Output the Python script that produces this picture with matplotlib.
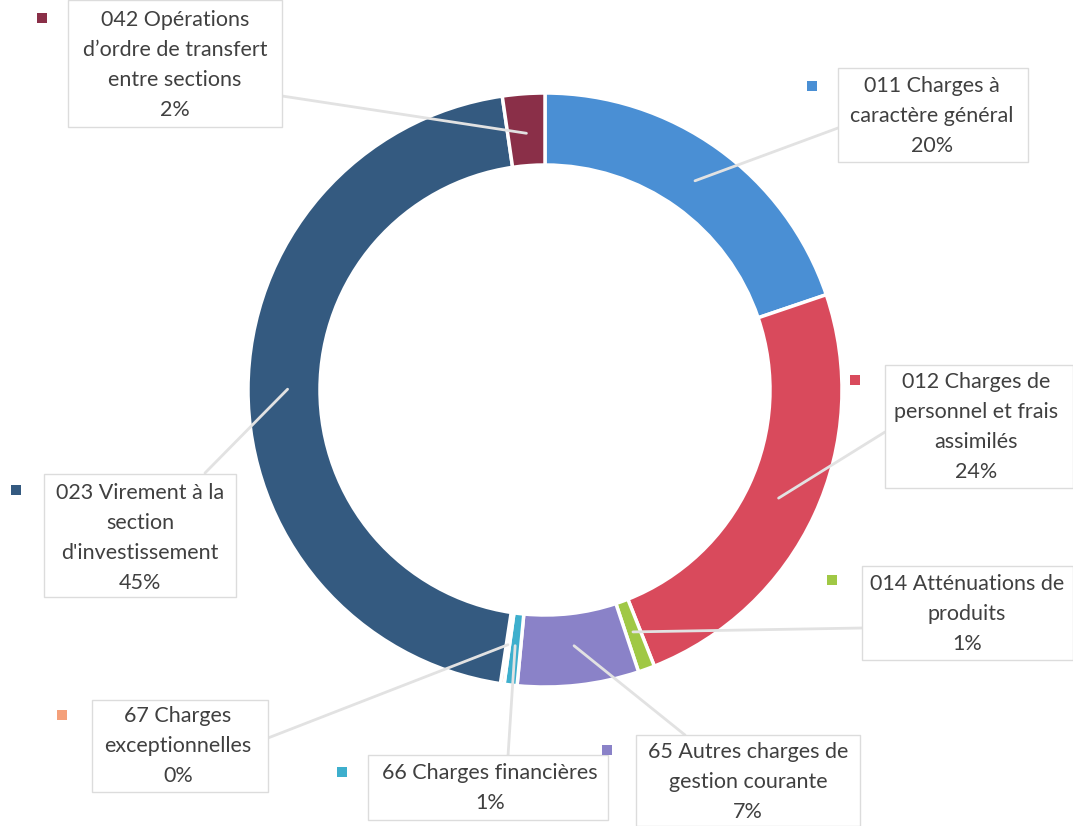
import numpy as np
import matplotlib
matplotlib.use("Agg")
import matplotlib.pyplot as plt
from matplotlib.patches import Rectangle

# ---- data ----
categories = [
    "011 Charges à\ncaractère général",
    "012 Charges de\npersonnel et frais\nassimilés",
    "014 Atténuations de\nproduits",
    "65 Autres charges de\ngestion courante",
    "66 Charges financières",
    "67 Charges\nexceptionnelles",
    "023 Virement à la\nsection\nd'investissement",
    "042 Opérations\nd\u2019ordre de transfert\nentre sections",
]
values = [19.8, 24.2, 0.9, 6.6, 0.7, 0.2, 45.3, 2.3]
pct_labels = ["20%", "24%", "1%", "7%", "1%", "0%", "45%", "2%"]
colors = ["#4a8fd4", "#d94a5c", "#a0c845", "#8a82c8", "#3eafcd",
          "#f4a07a", "#345a80", "#8a2f48"]

# ---- layout (pixel coordinates) ----
W, H = 1073, 826
center = (545, 390)
R = 297
ring = 72
# text block centre (x, y), box (x0, y0, x1, y1), marker (x, y), leader end (x, y)
text_pos = [(932, 116), (976, 427), (967, 614), (748, 782), (490, 788),
            (178, 746), (140, 538), (175, 65)]
boxes = [(838, 68, 1028, 162), (885, 365, 1073, 488), (862, 566, 1073, 660),
         (636, 735, 860, 826), (368, 755, 608, 820), (92, 700, 268, 792),
         (44, 474, 236, 597), (68, 0, 282, 127)]
markers = [(812, 86), (855, 380), (832, 580), (607, 750), (342, 772),
           (62, 715), (16, 490), (42, 18)]
leader_end = [(838, 128), (885, 432), (862, 628), (685, 735), (508, 756),
              (268, 738), (205, 473), (282, 96)]

plt.rcParams['font.family'] = ['Lato', 'DejaVu Sans']

fig = plt.figure(figsize=(W / 100, H / 100), dpi=100)
ax = fig.add_axes([0, 0, 1, 1])

ax.pie(values, colors=colors, startangle=-90, counterclock=True,
       radius=R, center=center, frame=False,
       wedgeprops=dict(width=ring, edgecolor="white", linewidth=2.5))
ax.set_xlim(0, W)
ax.set_ylim(H, 0)
ax.set_aspect("equal")
ax.axis("off")

total = sum(values)
cum = np.cumsum([0] + values[:-1])
for i, v in enumerate(values):
    mid = (cum[i] + v / 2) / total * 2 * np.pi  # clockwise from top
    r = R - ring * 0.55
    sx = center[0] + r * np.sin(mid)
    sy = center[1] - r * np.cos(mid)
    ex, ey = leader_end[i]
    ax.plot([sx, ex], [sy, ey], color="#e2e2e2", lw=2, solid_capstyle="round", zorder=5)

    x0, y0, x1, y1 = boxes[i]
    ax.add_patch(Rectangle((x0, y0), x1 - x0, y1 - y0, facecolor="white",
                           edgecolor="#dcdcdc", lw=1, zorder=6))
    tx, ty = text_pos[i]
    ax.text(tx, ty, categories[i] + "\n" + pct_labels[i], ha="center", va="center",
            fontsize=15.5, color="#404040", linespacing=1.62, zorder=7,
            transform=ax.transData)
    mx, my = markers[i]
    ax.add_patch(Rectangle((mx - 5, my - 5), 10, 10, facecolor=colors[i],
                           edgecolor="none", zorder=7))

fig.savefig("out.png", dpi=100)
